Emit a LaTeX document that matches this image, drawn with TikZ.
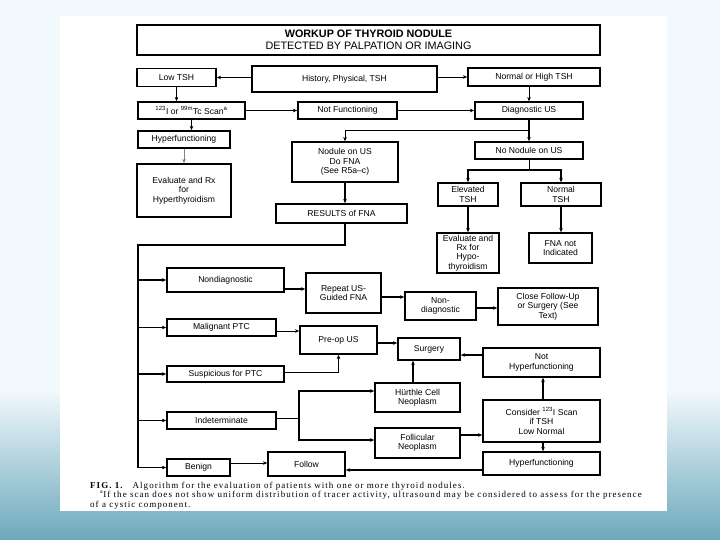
\documentclass[tikz,border=0pt]{standalone}
\usepackage{fontspec}
\setsansfont{Liberation Sans}
\newfontfamily\capfont[LetterSpace=11.5]{Liberation Serif}
\usetikzlibrary{arrows.meta}

\definecolor{bgtop}{RGB}{242,249,252}
\definecolor{bgteal}{RGB}{108,168,188}
\tikzset{
  box/.style={draw, line width=1.3pt, inner sep=1pt, align=center,
    font=\sffamily\fontsize{8.6}{9.3}\selectfont},
  bigbox/.style={box, line width=2.6pt},
  link/.style={line width=1.1pt, -{Stealth[length=4.5pt,width=3.6pt]}},
  thinlink/.style={line width=0.7pt, -{Stealth[length=4.5pt,width=3.6pt]}},
  wire/.style={line width=1.1pt},
  thinwire/.style={line width=0.7pt},
}

\begin{document}
\begin{tikzpicture}[x=1pt, y=-1pt]
  % Hintergrund und Blatt
  \useasboundingbox (0,0) rectangle (720,540);
  \fill[bgtop] (0,0) rectangle (720,540);
  \shade[top color=bgtop, bottom color=bgteal] (0,390) rectangle (720,540);
  \fill[white] (60,16) rectangle (667,511);

  % Titel
  \node[box, minimum width=463, minimum height=30,
    font=\sffamily\fontsize{10.8}{11.5}\selectfont] (title) at (368.5,40)
    {\textbf{WORKUP OF THYROID NODULE}\\DETECTED BY PALPATION OR IMAGING};

  % Erste Reihen
  \node[box, minimum width=79, minimum height=18] (lowtsh) at (176.5,77.5) {Low TSH};
  \node[bigbox, minimum width=185, minimum height=26] (hist) at (344.5,79) {History, Physical, TSH};
  \node[box, minimum width=132, minimum height=18] (normal) at (534,77) {Normal or High TSH};
  \node[box, minimum width=107, minimum height=17] (scan) at (191.5,110.5)
    {\textsuperscript{123}I or \textsuperscript{99m}Tc Scan\textsuperscript{a}};
  \node[box, minimum width=99, minimum height=17] (notfunc) at (347.5,110.5) {Not Functioning};
  \node[box, minimum width=108, minimum height=17] (diag) at (529,110.5) {Diagnostic US};
  \node[box, minimum width=92, minimum height=17] (hyper) at (184,139.5) {Hyperfunctioning};
  \node[box, minimum width=94, minimum height=53] (evalhyper) at (184,190.5)
    {Evaluate and Rx\\for\\Hyperthyroidism};
  \node[box, minimum width=106, minimum height=40] (nodule) at (345,162)
    {Nodule on US\\Do FNA\\(See R5a--c)};
  \node[box, minimum width=108, minimum height=17] (nonodule) at (529,150.5) {No Nodule on US};
  \node[box, minimum width=131, minimum height=19] (results) at (341.5,213.5) {RESULTS of FNA};
  \node[box, minimum width=60, minimum height=23] (elev) at (468,194.5) {Elevated\\TSH};
  \node[box, minimum width=80, minimum height=23] (normtsh) at (561,194.5) {Normal\\TSH};
  \node[box, minimum width=62, minimum height=40] (evalhypo) at (468,253)
    {Evaluate and\\Rx for\\Hypo-\\thyroidism};
  \node[box, minimum width=63, minimum height=30] (fnanot) at (560.5,248) {FNA not\\Indicated};

  % Ergebnisse der FNA
  \node[box, minimum width=117, minimum height=24] (nondiag) at (225.5,280) {Nondiagnostic};
  \node[box, minimum width=75, minimum height=40] (repeat) at (343.5,293) {Repeat US-\\Guided FNA};
  \node[box, minimum width=71, minimum height=28] (nondiag2) at (440.5,306) {Non-\\diagnostic};
  \node[box, minimum width=100, minimum height=37] (closefu) at (548,306.5)
    {Close Follow-Up\\or Surgery (See\\Text)};
  \node[box, minimum width=109, minimum height=17] (malig) at (221.5,327.5) {Malignant PTC};
  \node[box, minimum width=77, minimum height=28] (preop) at (338.5,340) {Pre-op US};
  \node[box, minimum width=62, minimum height=22] (surgery) at (429,349) {Surgery};
  \node[box, minimum width=117, minimum height=29] (nothyper) at (541.5,362.5)
    {Not\\Hyperfunctioning};
  \node[box, minimum width=117, minimum height=16] (susp) at (225.5,374) {Suspicious for PTC};
  \node[box, minimum width=85, minimum height=29] (hurthle) at (417.5,397.5) {Hürthle Cell\\Neoplasm};
  \node[box, minimum width=117, minimum height=42] (consider) at (541.5,421)
    {Consider \textsuperscript{123}I Scan\\if TSH\\Low Normal};
  \node[box, minimum width=109, minimum height=17] (indet) at (221.5,420.5) {Indeterminate};
  \node[box, minimum width=85, minimum height=30] (follic) at (417.5,443) {Follicular\\Neoplasm};
  \node[box, minimum width=63, minimum height=17] (benign) at (198.5,467.5) {Benign};
  \node[box, minimum width=77, minimum height=24] (follow) at (306.5,464) {Follow};
  \node[box, minimum width=117, minimum height=23] (hyper2) at (541.5,463.5) {Hyperfunctioning};

  % Verbindungen oben
  \draw[link] (hist.west |- lowtsh) -- (lowtsh.east);
  \draw[thinlink] (hist.east |- normal) -- (normal.west);
  \draw[link] (lowtsh.south) -- (lowtsh.south |- scan.north);
  \draw[thinlink] (diag.north |- normal.south) -- (diag.north);
  \draw[link] (scan.east) -- (notfunc.west);
  \draw[link] (notfunc.east) -- (notfunc.east -| diag.west);
  \draw[link] (scan.south) -- (scan.south |- hyper.north);
  \draw[thinlink, gray] (hyper.south) -- (evalhyper.north);

  % Ultraschall
  \coordinate (usfork) at (529,130);
  \draw[link] (diag.south) -- (nonodule.north);
  \draw[thinlink] (usfork) -| (nodule.north);
  \coordinate (tshfork) at (529,170);
  \draw[thinwire] (nonodule.south) -- (tshfork);
  \draw[link] (tshfork) -| (elev.north);
  \draw[link] (tshfork) -| (normtsh.north);
  \draw[link] (elev.south) -- (evalhypo.north);
  \draw[link] (normtsh.south) -- (normtsh.south |- fnanot.north);
  \draw[link] (nodule.south) -- (nodule.south |- results.north);

  % Stamm links
  \coordinate (fnafork) at (345,245);
  \coordinate (trunk) at (138,245);
  \draw[wire] (fnafork |- results.south) -- (fnafork) -- (trunk) -- (trunk |- benign);
  \foreach \b in {nondiag, malig, susp, indet, benign}
    \draw[link] (trunk |- \b.west) -- (\b.west);

  % Zweige
  \draw[link] (nondiag.east |- 0,289) -- (repeat.west |- 0,289);
  \draw[link] (repeat.east |- 0,297) -- (nondiag2.west |- 0,297);
  \draw[link] (nondiag2.east |- 0,308) -- (closefu.west |- 0,308);
  \draw[thinlink] (malig.east |- 0,331) -- (preop.west |- 0,331);
  \draw[link] (preop.east |- 0,343) -- (surgery.west |- 0,343);
  \draw[link] (nothyper.west |- 0,355) -- (surgery.east |- 0,355);
  \draw[thinlink] (susp.east |- 0,372) -| (preop.south);
  \draw[link] (hurthle.north -| 413,0) -- (surgery.south -| 413,0);
  \coordinate (indfork) at (299,418);
  \draw[thinwire] (indet.east |- indfork) -- (indfork);
  \draw[link] (indfork) |- (hurthle.west |- 0,391);
  \draw[link] (indfork) |- (follic.west |- 0,440);
  \draw[link] (follic.east |- 0,435) -- (consider.west |- 0,435);
  \draw[link] (consider.north -| 543,0) -- (nothyper.south -| 543,0);
  \draw[link] (consider.south -| 543,0) -- (hyper2.north -| 543,0);
  \draw[link] (hyper2.west |- 0,470) -- (follow.east |- 0,470);
  \draw[thinlink] (benign.east |- 0,463) -- (follow.west |- 0,463);

  % Legende
  \begin{scope}[every node/.style={anchor=base west, inner sep=0pt,
      font=\capfont\fontsize{9}{9.5}\selectfont}]
    \node (cap1) at (90,488) {\textbf{FIG. 1.}\quad Algorithm for the evaluation of patients with one or more thyroid nodules.};
    \node (cap2) at (100,497.5) {\textsuperscript{a}If the scan does not show uniform distribution of tracer activity, ultrasound may be considered to assess for the presence};
    \node (cap3) at (90,507) {of a cystic component.};
  \end{scope}
\end{tikzpicture}
\end{document}
